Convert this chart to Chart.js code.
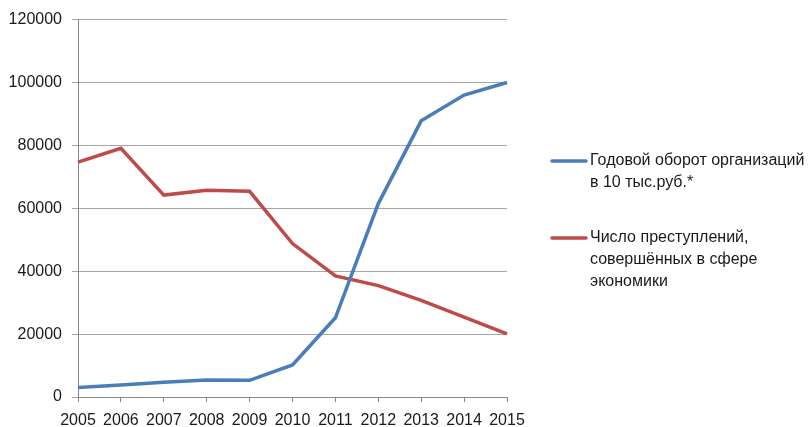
<!DOCTYPE html>
<html>
<head>
<meta charset="utf-8">
<script src="https://cdn.jsdelivr.net/npm/chart.js@4"></script>
<style>
  html, body { margin: 0; padding: 0; background: #fff; }
  .chart-container { width: 812px; height: 427px; position: relative; }
</style>
</head>
<body>
<div class="chart-container">
  <canvas id="crime-chart"></canvas>
</div>
<script>
// years on the x axis
const years = ['2005', '2006', '2007', '2008', '2009', '2010', '2011', '2012', '2013', '2014', '2015'];

// annual turnover, in 10 thousand rub.
const turnover = [3000, 3800, 4700, 5400, 5300, 10200, 25200, 61500, 87800, 96000, 100000];

// number of economic crimes
const crimes = [74700, 79100, 64200, 65700, 65400, 48800, 38500, 35400, 30700, 25400, 20100];

const yTicks = [0, 20000, 40000, 60000, 80000, 100000, 120000];

const legendLines = [
  ['Годовой оборот организаций', 'в 10 тыс.руб.*'],
  ['Число преступлений,', 'совершённых в сфере', 'экономики'],
];

const FONT = "'Liberation Sans', Arial, sans-serif";

// legend drawn by hand because labels wrap onto several lines
const sideLegend = {
  id: 'sideLegend',
  afterDraw(chart) {
    const ctx = chart.ctx;
    const starts = [161, 238];
    ctx.save();
    ctx.font = '16px ' + FONT;
    ctx.textBaseline = 'middle';
    ctx.fillStyle = '#1a1a1a';
    chart.data.datasets.forEach((ds, i) => {
      const y = starts[i];
      ctx.strokeStyle = ds.borderColor;
      ctx.lineWidth = 3.5;
      ctx.lineCap = 'round';
      ctx.beginPath();
      ctx.moveTo(552, y);
      ctx.lineTo(586, y);
      ctx.stroke();
      legendLines[i].forEach((line, j) => {
        ctx.fillText(line, 590, y + j * 22);
      });
    });
    ctx.restore();
  }
};

const ctx = document.getElementById('crime-chart');
new Chart(ctx, {
  type: 'line',
  data: {
    labels: years,
    datasets: [
      {
        label: 'Годовой оборот организаций в 10 тыс.руб.*',
        data: turnover,
        borderColor: '#4a7ebb',
        borderWidth: 3.5,
        pointRadius: 0,
        tension: 0,
      },
      {
        label: 'Число преступлений, совершённых в сфере экономики',
        data: crimes,
        borderColor: '#be4b48',
        borderWidth: 3.5,
        pointRadius: 0,
        tension: 0,
      },
    ],
  },
  options: {
    responsive: true,
    maintainAspectRatio: false,
    animation: false,
    layout: {
      padding: { top: 17, right: 305, left: 0, bottom: 0 },
    },
    plugins: {
      legend: { display: false },
      tooltip: { enabled: false },
    },
    scales: {
      x: {
        offset: false,
        grid: {
          drawOnChartArea: false,
          drawTicks: true,
          tickLength: 5,
          color: '#868686',
        },
        border: { color: '#868686', width: 1 },
        ticks: {
          color: '#1a1a1a',
          font: { family: FONT, size: 16 },
          padding: 9,
          maxRotation: 0,
          autoSkip: false,
        },
        afterFit: (scale) => { scale.height = 30; },
      },
      y: {
        min: 0,
        max: 120000,
        afterBuildTicks: (scale) => {
          scale.ticks = yTicks.map((v) => ({ value: v }));
        },
        grid: {
          color: '#a6a6a6',
          tickLength: 6,
        },
        border: { color: '#868686', width: 1 },
        ticks: {
          color: '#1a1a1a',
          font: { family: FONT, size: 16 },
          padding: 10,
          callback: (v) => String(v),
        },
        afterFit: (scale) => { scale.width = 78; },
      },
    },
  },
  plugins: [sideLegend],
});
</script>
</body>
</html>
